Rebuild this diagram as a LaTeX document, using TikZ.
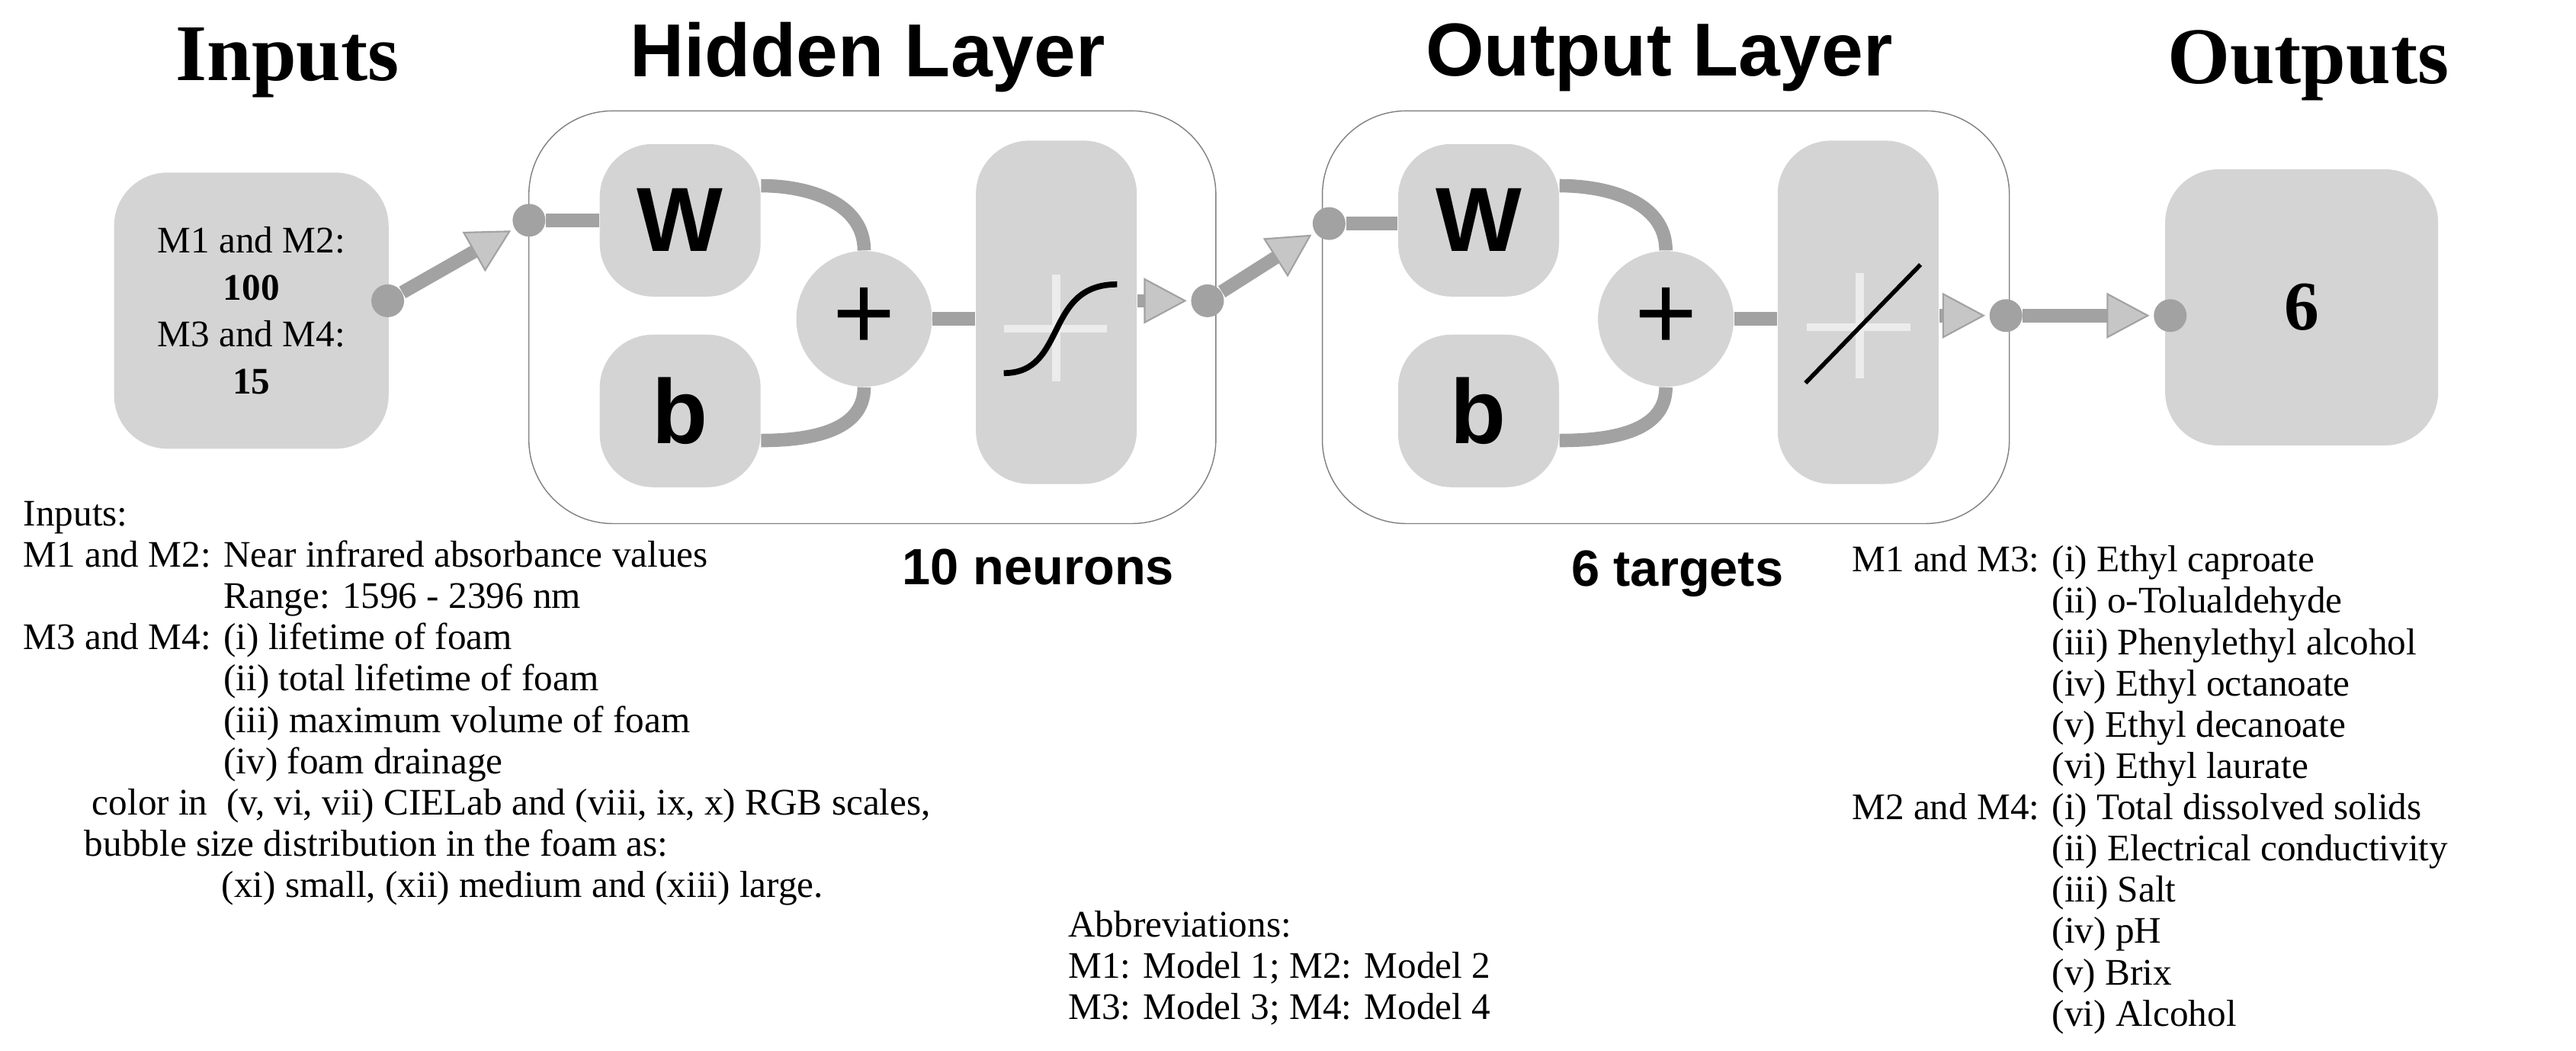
\documentclass[tikz,border=0pt]{standalone}
\usepackage{fontspec}
\setmainfont{Liberation Serif}
\newfontfamily\sansbf{Liberation Sans}
\usetikzlibrary{arrows.meta,positioning,calc}
\definecolor{boxgray}{HTML}{D4D4D4}
\definecolor{linegray}{HTML}{A2A2A2}
\tikzset{
  blk/.style={fill=boxgray, rounded corners=0.7cm, inner sep=0pt},
  frame/.style={draw=gray, thin, rounded corners=1.1cm, minimum width=9.01cm, minimum height=5.41cm},
  dot/.style={circle, fill=linegray, minimum size=0.43cm, inner sep=0pt},
  wire/.style={linegray, line width=5pt},
  flow/.style={wire, -{Triangle[length=16pt,width=17pt,fill=gray!45,line width=0.6pt]}, shorten >=0.05cm},
  title/.style={font=\fontsize{30}{34}\selectfont\bfseries},
  ltitle/.style={font=\sansbf\fontsize{28}{30}\selectfont\bfseries},
  sym/.style={font=\sansbf\fontsize{34}{36}\selectfont\bfseries},
  body/.style={font=\fontsize{14}{15.4}\selectfont, anchor=north west, inner sep=0pt}
}
\begin{document}
\begin{tikzpicture}[x=0.02155cm, y=-0.02155cm]
    \useasboundingbox (0,0) rectangle (1568,639);
    % titles
    \node(tin) at (175,38) [title] {Inputs};
    \node(thid) at (528,35) [ltitle] {Hidden Layer};
    \node(tout) at (1010,35) [ltitle] {Output Layer};
    \node(tres) at (1405,40) [title] {Outputs};

    % input block
    \node(in) at (153,189) [blk, minimum width=3.6cm, minimum height=3.62cm, align=center,
      font=\fontsize{14}{17.5}\selectfont] {M1 and M2:\\\textbf{100}\\M3 and M4:\\\textbf{15}};
    \node(d0) at (236,183) [dot] {};

    % hidden layer
    \node(hid) at (531,193) [frame] {};
    \node(d1) at (322,134) [dot] {};
    \node(w1) at (414,134) [blk, minimum width=2.11cm, minimum height=2.0cm, sym] {W};
    \node(b1) at (414,250) [blk, minimum width=2.11cm, minimum height=2.0cm, sym] {b};
    \node(p1) at (526,194) [circle, fill=boxgray, minimum size=1.78cm, inner sep=0pt,
      font=\sansbf\fontsize{40}{40}\selectfont] {+};
    \node(f1) at (643,190) [blk, minimum width=2.11cm, minimum height=4.5cm] {};
    \draw[white!85!gray, line width=3pt] (643,167) -- (643,232) (611,200) -- (674,200);
    \draw[black, line width=2.2pt] (611,227) .. controls (650,227) and (635,173) .. (680,173);
    \node(d2) at (735,183) [dot] {};

    % output layer
    \node(outl) at (1014,193) [frame] {};
    \node(d3) at (809,136) [dot] {};
    \node(w2) at (900,134) [blk, minimum width=2.11cm, minimum height=2.0cm, sym] {W};
    \node(b2) at (900,250) [blk, minimum width=2.11cm, minimum height=2.0cm, sym] {b};
    \node(p2) at (1014,194) [circle, fill=boxgray, minimum size=1.78cm, inner sep=0pt,
      font=\sansbf\fontsize{40}{40}\selectfont] {+};
    \node(f2) at (1131,190) [blk, minimum width=2.11cm, minimum height=4.5cm] {};
    \draw[white!85!gray, line width=3pt] (1132,166) -- (1132,230) (1100,199) -- (1163,199);
    \draw[black, line width=1.6pt] (1099,233) -- (1169,161);
    \node(d4) at (1221,192) [dot] {};

    % outputs block
    \node(res) at (1401,187) [blk, minimum width=3.58cm, minimum height=3.62cm,
      font=\fontsize{26}{28}\selectfont\bfseries] {6};
    \node(d5) at (1321,192) [dot] {};

    % wires
    \draw (d0) edge[flow] (d1);
    \draw[wire] (d1) -- (w1.west |- d1);
    \draw[wire] (w1.east |- 0,113) to[out=0, in=90] (p1.north);
    \draw[wire] (b1.east |- 0,268) to[out=0, in=-90] (p1.south);
    \draw[wire] (p1.east) -- (f1.west |- p1.east);
    \draw (f1.east |- d2) edge[flow] (d2);
    \draw (d2) edge[flow] (d3);
    \draw[wire] (d3) -- (w2.west |- d3);
    \draw[wire] (w2.east |- 0,113) to[out=0, in=90] (p2.north);
    \draw[wire] (b2.east |- 0,268) to[out=0, in=-90] (p2.south);
    \draw[wire] (p2.east) -- (f2.west |- p2.east);
    \draw (f2.east |- d4) edge[flow] (d4);
    \draw (d4) edge[flow] (d5);

    % captions
    \node(nh) at (632,345) [font=\sansbf\fontsize{19}{21}\selectfont\bfseries] {10 neurons};
    \node(no) at (1021,349) [font=\sansbf\fontsize{19}{21}\selectfont\bfseries] {6 targets};

    % notes
    \node(nin) at (14,302) [body] {%
      \begin{tabular}{@{}l@{ }l@{}}
      Inputs: & \\
      M1 and M2: & Near infrared absorbance values\\
       & Range: 1596 - 2396 nm\\
      M3 and M4: & (i) lifetime of foam\\
       & (ii) total lifetime of foam\\
       & (iii) maximum volume of foam\\
       & (iv) foam drainage\\
      \multicolumn{2}{@{}l@{}}{\hspace{0.9cm}color in\ \ (v, vi, vii) CIELab and (viii, ix, x) RGB scales,}\\
      \multicolumn{2}{@{}l@{}}{\hspace{0.8cm}bubble size distribution in the foam as:}\\
      \multicolumn{2}{@{}l@{}}{\hspace{2.6cm}(xi) small, (xii) medium and (xiii) large.}
      \end{tabular}};
    \node(nres) at (1127,330) [body] {%
      \begin{tabular}{@{}l@{ }l@{}}
      M1 and M3: & (i) Ethyl caproate\\
       & (ii) o-Tolualdehyde\\
       & (iii) Phenylethyl alcohol\\
       & (iv) Ethyl octanoate\\
       & (v) Ethyl decanoate\\
       & (vi) Ethyl laurate\\
      M2 and M4: & (i) Total dissolved solids\\
       & (ii) Electrical conductivity\\
       & (iii) Salt\\
       & (iv) pH\\
       & (v) Brix\\
       & (vi) Alcohol
      \end{tabular}};
    \node(nab) at (650,552) [body] {%
      \begin{tabular}{@{}l@{}}
      Abbreviations:\\
      M1: Model 1; M2: Model 2\\
      M3: Model 3; M4: Model 4
      \end{tabular}};
\end{tikzpicture}
\end{document}
